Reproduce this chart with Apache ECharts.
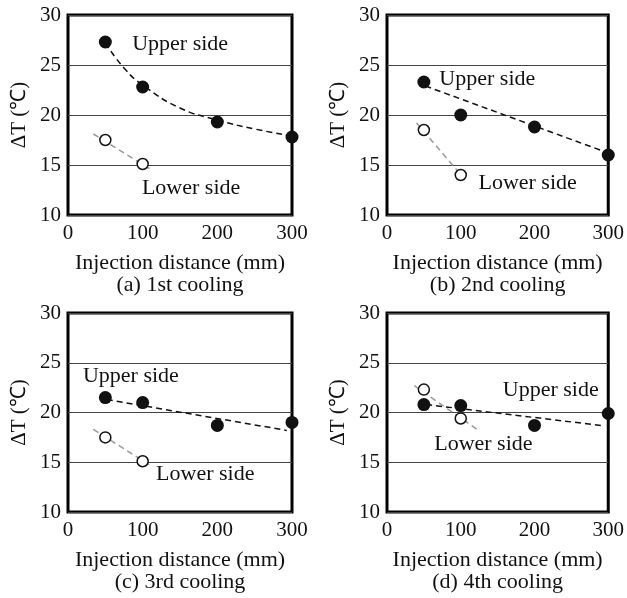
<!DOCTYPE html>
<html>
<head>
<meta charset="utf-8">
<script src="https://cdn.jsdelivr.net/npm/echarts@6/dist/echarts.min.js"></script>
<style>
  html, body { margin: 0; padding: 0; background: #fff; }
  #chart { width: 627px; height: 598px; }
</style>
</head>
<body>
<div id="chart"></div>
<script>
const distance = [50, 100, 200, 300];
const lowerDistance = [50, 100];

const upperA = [27.3, 22.8, 19.3, 17.8];
const upperB = [23.3, 20.0, 18.8, 16.0];
const upperC = [21.5, 21.0, 18.7, 19.0];
const upperD = [20.8, 20.7, 18.7, 19.9];

const lowerA = [17.5, 15.1];
const lowerB = [18.5, 14.0];
const lowerC = [17.5, 15.1];
const lowerD = [22.3, 19.4];

// fitted trend lines, [distance, dT]
const upperTrendA = [[50, 27.2], [75, 24.7], [100, 23.0], [150, 20.7], [200, 19.5], [250, 18.6], [300, 17.9]];
const upperTrendB = [[52, 22.9], [300, 16.2]];
const upperTrendC = [[52, 21.3], [293, 18.2]];
const upperTrendD = [[53, 20.8], [290, 18.7]];

const lowerTrendA = [[34, 18.1], [112, 14.5]];
const lowerTrendB = [[40, 19.2], [97, 14.3]];
const lowerTrendC = [[34, 18.3], [112, 14.6]];
const lowerTrendD = [[37, 22.7], [122, 18.3]];

// text labels: [distance, dT, text]
const notesA = [[86, 27.1, 'Upper side'], [99, 12.7, 'Lower side']];
const notesB = [[71, 23.6, 'Upper side'], [124, 13.2, 'Lower side']];
const notesC = [[20, 23.6, 'Upper side'], [118, 13.8, 'Lower side']];
const notesD = [[157, 22.2, 'Upper side'], [64, 16.8, 'Lower side']];

const captions = ['(a) 1st cooling', '(b) 2nd cooling', '(c) 3rd cooling', '(d) 4th cooling'];
const xTicks = [0, 100, 200, 300];
const yTicks = [10, 15, 20, 25, 30];

const FONT = '"Liberation Serif", "Times New Roman", serif';
const INK = '#111';

const panels = [
  { upper: upperA, lower: lowerA, ut: upperTrendA, lt: lowerTrendA, notes: notesA, smooth: true },
  { upper: upperB, lower: lowerB, ut: upperTrendB, lt: lowerTrendB, notes: notesB },
  { upper: upperC, lower: lowerC, ut: upperTrendC, lt: lowerTrendC, notes: notesC },
  { upper: upperD, lower: lowerD, ut: upperTrendD, lt: lowerTrendD, notes: notesD }
];

const grids = [
  { left: 68, top: 15, width: 224, height: 200 },
  { left: 387, top: 15, width: 224, height: 200 },
  { left: 68, top: 313, width: 224, height: 199 },
  { left: 387, top: 313, width: 224, height: 199 }
];

const chart = echarts.init(document.getElementById('chart'), null, { renderer: 'canvas' });

const option = {
  animation: false,
  backgroundColor: '#fff',
  grid: grids.map(g => ({ ...g, show: true, borderColor: '#000', borderWidth: 3, backgroundColor: 'transparent', containLabel: false })),
  xAxis: grids.map((g, i) => ({
    gridIndex: i,
    type: 'value',
    min: xTicks[0], max: xTicks[xTicks.length - 1], interval: 100,
    name: 'Injection distance (mm)\n' + captions[i],
    nameLocation: 'middle',
    nameGap: 37,
    nameTextStyle: { fontFamily: FONT, fontSize: 22, color: INK, lineHeight: 22 },
    axisLine: { show: false },
    axisTick: { show: false },
    splitLine: { show: false },
    axisLabel: { fontFamily: FONT, fontSize: 21, color: INK, margin: 8 }
  })),
  yAxis: grids.map((g, i) => ({
    gridIndex: i,
    type: 'value',
    min: yTicks[0], max: yTicks[yTicks.length - 1], interval: 5,
    name: 'ΔT (℃)',
    nameLocation: 'middle',
    nameRotate: 90,
    nameGap: 38,
    nameTextStyle: { fontFamily: FONT, fontSize: 21, color: INK },
    axisLine: { show: false },
    axisTick: { show: false },
    splitLine: { lineStyle: { color: '#444', width: 1 } },
    axisLabel: { fontFamily: FONT, fontSize: 21, color: INK, margin: 7 }
  })),
  series: []
};

panels.forEach((p, i) => {
  option.series.push({
    type: 'line', xAxisIndex: i, yAxisIndex: i, data: p.lt,
    symbol: 'none', smooth: false, z: 2, silent: true,
    lineStyle: { color: '#999', width: 1.5, type: [6, 4] }
  });
  option.series.push({
    type: 'line', xAxisIndex: i, yAxisIndex: i, data: p.ut,
    symbol: 'none', smooth: !!p.smooth, z: 2, silent: true,
    lineStyle: { color: '#111', width: 1.5, type: [6, 4] }
  });
  option.series.push({
    type: 'scatter', xAxisIndex: i, yAxisIndex: i,
    data: lowerDistance.map((d, k) => [d, p.lower[k]]),
    symbol: 'circle', symbolSize: 11, z: 4,
    itemStyle: { color: '#fff', borderColor: '#111', borderWidth: 1.5, opacity: 1 }
  });
  option.series.push({
    type: 'scatter', xAxisIndex: i, yAxisIndex: i,
    data: distance.map((d, k) => [d, p.upper[k]]),
    symbol: 'circle', symbolSize: 13, z: 5,
    itemStyle: { color: '#111', opacity: 1 }
  });
  option.series.push({
    type: 'scatter', xAxisIndex: i, yAxisIndex: i,
    data: p.notes.map(n => ({ value: [n[0], n[1]], name: n[2] })),
    symbolSize: 0, z: 6, silent: true,
    itemStyle: { opacity: 1 },
    label: {
      show: true, position: 'inside', align: 'left', verticalAlign: 'middle',
      formatter: q => q.name,
      fontFamily: FONT, fontSize: 22, color: INK
    }
  });
});

chart.setOption(option);
</script>
</body>
</html>
